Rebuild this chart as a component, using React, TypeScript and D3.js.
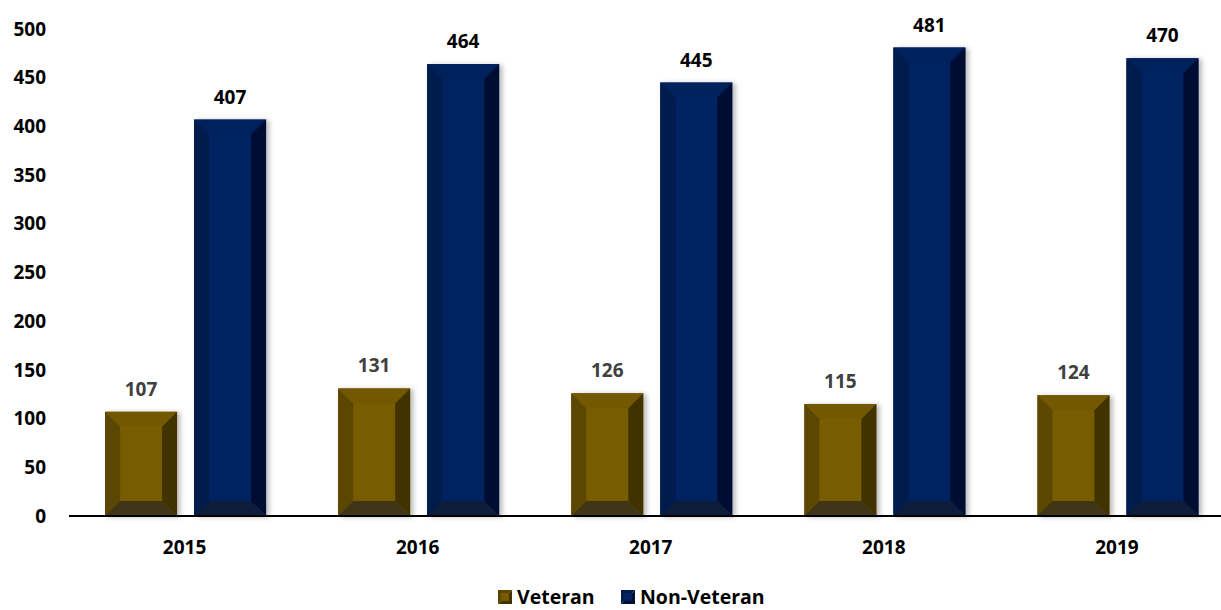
import React from "react";
import * as d3 from "d3";

const years = ["2015", "2016", "2017", "2018", "2019"];
const veteran = [107, 131, 126, 115, 124];
const nonVeteran = [407, 464, 445, 481, 470];
const seriesNames = ["Veteran", "Non-Veteran"];
const yTicks = [0, 50, 100, 150, 200, 250, 300, 350, 400, 450, 500];

const W = 1221;
const H = 610;
const FONT = "'Open Sans', 'DejaVu Sans', sans-serif";

const palettes = [
  { face: "#775B00", top: "#735800", left: "#5C4600", right: "#433300", bottom: "#3F3414", label: "#404040" },
  { face: "#052260", top: "#03205C", left: "#021B4E", right: "#011131", bottom: "#0C1A3A", label: "#000000" },
];

function BevelBar({ x0, x1, y0, y1, pal }: any) {
  const b = Math.min(15, (y1 - y0) / 2, (x1 - x0) / 2);
  const pts = (arr: number[][]) => arr.map((p) => p.join(",")).join(" ");
  return (
    <g filter="url(#shadow)">
      <rect x={x0} y={y0} width={x1 - x0} height={y1 - y0} fill={pal.face} />
      <polygon points={pts([[x0, y0], [x1, y0], [x1 - b, y0 + b], [x0 + b, y0 + b]])} fill={pal.top} />
      <polygon points={pts([[x0, y0], [x0 + b, y0 + b], [x0 + b, y1 - b], [x0, y1]])} fill={pal.left} />
      <polygon points={pts([[x1, y0], [x1, y1], [x1 - b, y1 - b], [x1 - b, y0 + b]])} fill={pal.right} />
      <polygon points={pts([[x0, y1], [x0 + b, y1 - b], [x1 - b, y1 - b], [x1, y1]])} fill={pal.bottom} />
    </g>
  );
}

export default function App() {
  const y = d3.scaleLinear().domain([0, 500]).range([516, 29]);
  const x0 = d3.scaleBand().domain(years).range([69, 1234.5]).paddingInner(0).paddingOuter(0);
  const bw = x0.bandwidth();
  const x1 = d3
    .scaleBand()
    .domain(seriesNames)
    .range([(bw - 161) / 2, (bw + 161) / 2])
    .paddingInner(17 / 89)
    .paddingOuter(0);
  const data = [veteran, nonVeteran];

  return (
    <svg width={W} height={H} style={{ position: "absolute", left: 0, top: 0, background: "#fff" }} fontFamily={FONT}>
      <defs>
        <filter id="shadow" x="-20%" y="-5%" width="150%" height="115%">
          <feDropShadow dx="3" dy="1" stdDeviation="2.5" floodColor="#000" floodOpacity="0.28" />
        </filter>
      </defs>
      {yTicks.map((t) => (
        <text key={t} x={46} y={y(t)} dy="0.35em" textAnchor="end" fontSize={19} fontWeight={700} fill="#000">
          {t}
        </text>
      ))}
      {years.map((yr, i) => (
        <g key={yr}>
          {seriesNames.map((s, si) => {
            const v = data[si][i];
            const bx = (x0(yr) as number) + (x1(s) as number);
            const bwid = x1.bandwidth();
            return (
              <g key={s}>
                <BevelBar x0={bx} x1={bx + bwid} y0={y(v)} y1={y(0)} pal={palettes[si]} />
                <text x={bx + bwid / 2} y={y(v) - 16} textAnchor="middle" fontSize={19} fontWeight={700} fill={palettes[si].label}>
                  {v}
                </text>
              </g>
            );
          })}
          <text x={(x0(yr) as number) + bw / 2 - 1} y={554} textAnchor="middle" fontSize={19} fontWeight={700} fill="#000">
            {yr}
          </text>
        </g>
      ))}
      <line x1={69} x2={W} y1={y(0)} y2={y(0)} stroke="#000" strokeWidth={2} />
      {seriesNames.map((s, si) => {
        const lx = si === 0 ? 498 : 621;
        const ly = 590;
        const p = palettes[si];
        return (
          <g key={s}>
            <polygon points={`${lx},${ly} ${lx + 14},${ly} ${lx},${ly + 14}`} fill={p.left} />
            <polygon points={`${lx + 14},${ly} ${lx + 14},${ly + 14} ${lx},${ly + 14}`} fill={p.right} />
            <rect x={lx + 3} y={ly + 3} width={8} height={8} fill={p.face} />
            <text x={lx + 19} y={ly + 14} fontSize={19.5} fontWeight={700} fill="#000">
              {s}
            </text>
          </g>
        );
      })}
    </svg>
  );
}
